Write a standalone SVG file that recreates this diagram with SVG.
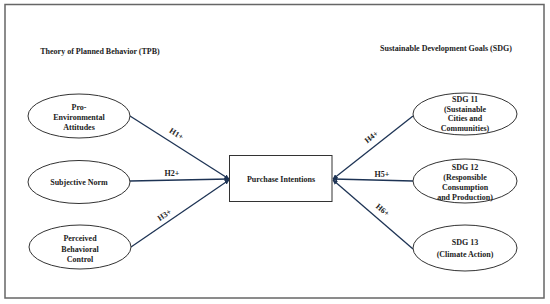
<svg xmlns="http://www.w3.org/2000/svg" width="550" height="304" viewBox="0 0 550 304">
<style>
.t{font-family:"Liberation Serif","Times New Roman",serif;font-weight:bold;font-size:8px;fill:#222;text-anchor:middle}
.n{fill:#fff;stroke:#333;stroke-width:1}
.c{stroke:#1d3354;stroke-width:1.3;fill:none;marker-end:url(#ah)}
</style>
<defs>
<marker id="ah" viewBox="0 0 10 10" refX="9" refY="5" markerWidth="5" markerHeight="5" orient="auto" markerUnits="userSpaceOnUse">
<path d="M0,0 L10,5 L0,10 Z" fill="#1d3354"/>
</marker>
</defs>
<rect x="5" y="4.5" width="539" height="293.5" fill="#fff" stroke="#666" stroke-width="1.5"/>
<text class="t" x="100" y="54">Theory of Planned Behavior (TPB)</text>
<text class="t" x="446" y="51">Sustainable Development Goals (SDG)</text>
<g id="connectors">
<line class="c" x1="130" y1="116" x2="229" y2="179"/>
<line class="c" x1="130" y1="181" x2="229" y2="179"/>
<line class="c" x1="131" y1="247" x2="229" y2="180"/>
<line class="c" x1="413" y1="116" x2="333" y2="179"/>
<line class="c" x1="413" y1="181" x2="333" y2="179"/>
<line class="c" x1="413" y1="249" x2="333" y2="180"/>
<text class="t" transform="translate(175,136) rotate(32)">H1+</text>
<text class="t" x="172" y="176">H2+</text>
<text class="t" transform="translate(166,217) rotate(-34)">H3+</text>
<text class="t" transform="translate(373,139) rotate(-38)">H4+</text>
<text class="t" x="382" y="177">H5+</text>
<text class="t" transform="translate(381,212) rotate(40)">H6+</text>
</g>
<g id="pro-env">
<ellipse class="n" cx="79" cy="116" rx="51" ry="22"/>
<text class="t" x="79" y="110">Pro-</text>
<text class="t" x="79" y="120">Environmental</text>
<text class="t" x="79" y="130">Attitudes</text>
</g>
<g id="subjective-norm">
<ellipse class="n" cx="79" cy="182" rx="51" ry="21.5"/>
<text class="t" x="79" y="185">Subjective Norm</text>
</g>
<g id="pbc">
<ellipse class="n" cx="80" cy="247" rx="51" ry="22"/>
<text class="t" x="80" y="241">Perceived</text>
<text class="t" x="80" y="251.5">Behavioral</text>
<text class="t" x="80" y="262">Control</text>
</g>
<g id="purchase-intentions">
<rect class="n" x="229.5" y="155.5" width="102.5" height="46"/>
<text class="t" x="281" y="182">Purchase Intentions</text>
</g>
<g id="sdg11">
<ellipse class="n" cx="465" cy="114" rx="52" ry="21"/>
<text class="t" x="465" y="102">SDG 11</text>
<text class="t" x="465" y="111.5">(Sustainable</text>
<text class="t" x="465" y="121">Cities and</text>
<text class="t" x="465" y="131">Communities)</text>
</g>
<g id="sdg12">
<ellipse class="n" cx="465" cy="181" rx="52" ry="22"/>
<text class="t" x="465" y="170">SDG 12</text>
<text class="t" x="465" y="180">(Responsible</text>
<text class="t" x="465" y="190">Consumption</text>
<text class="t" x="465" y="200">and Production)</text>
</g>
<g id="sdg13">
<ellipse class="n" cx="465" cy="248" rx="52" ry="23"/>
<text class="t" x="465" y="245">SDG 13</text>
<text class="t" x="465" y="257">(Climate Action)</text>
</g>
</svg>
